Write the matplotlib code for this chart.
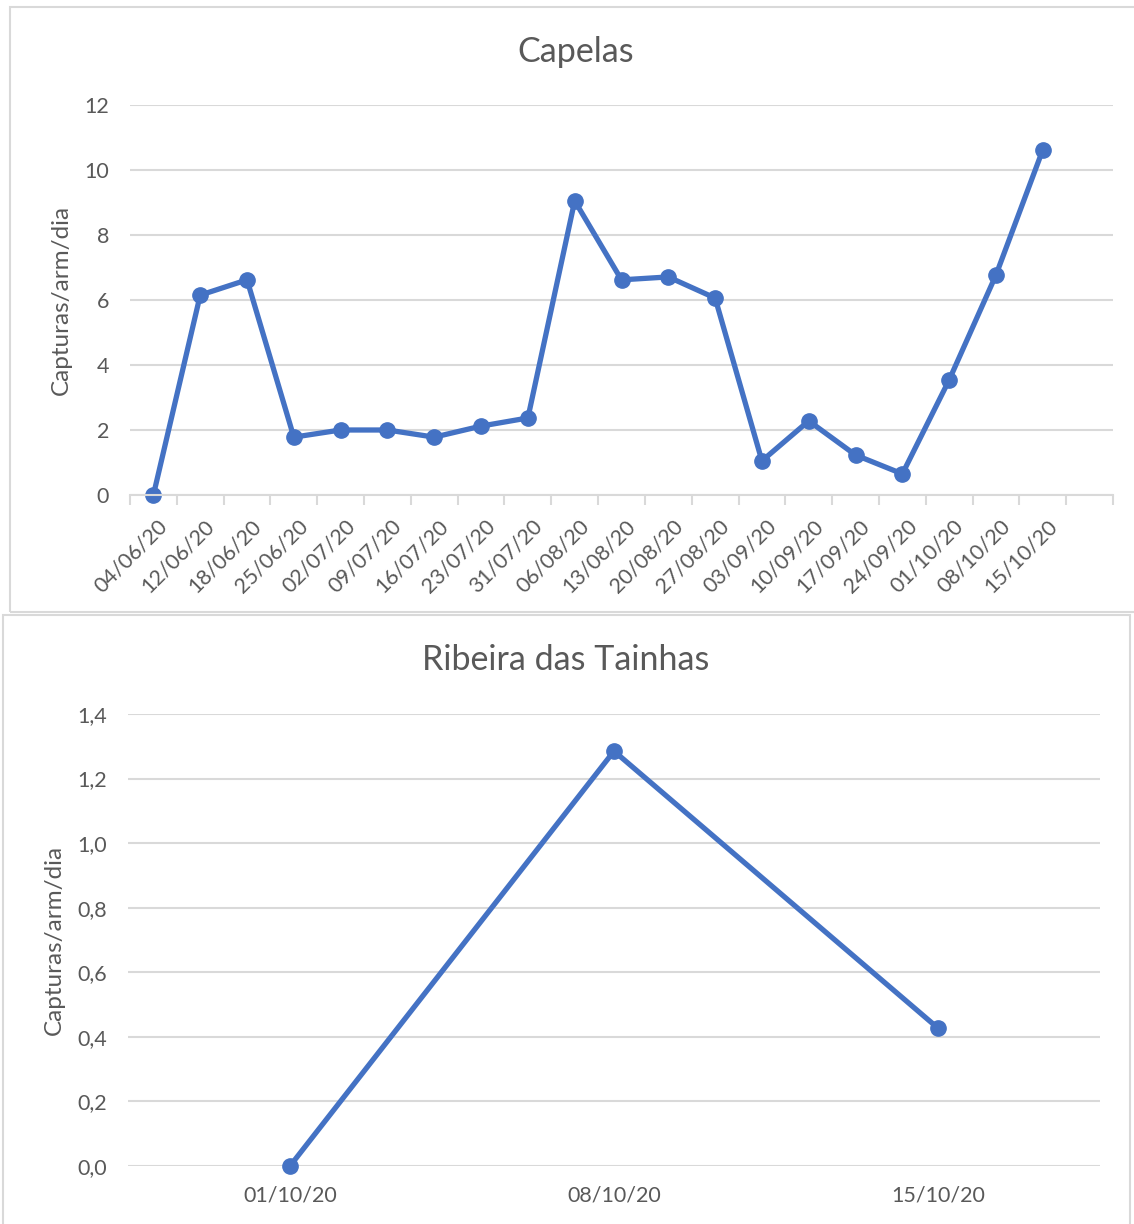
import matplotlib.pyplot as plt
from matplotlib.patches import Rectangle
from matplotlib.transforms import ScaledTranslation

# Dados - Capelas
datas_capelas = ["04/06/20", "12/06/20", "18/06/20", "25/06/20", "02/07/20", "09/07/20",
                 "16/07/20", "23/07/20", "31/07/20", "06/08/20", "13/08/20", "20/08/20",
                 "27/08/20", "03/09/20", "10/09/20", "17/09/20", "24/09/20", "01/10/20",
                 "08/10/20", "15/10/20"]
capturas_capelas = [0, 6.15, 6.62, 1.78, 2.0, 2.0, 1.78, 2.12, 2.37, 9.05, 6.62, 6.71,
                    6.06, 1.05, 2.28, 1.23, 0.65, 3.54, 6.77, 10.62]

# Dados - Ribeira das Tainhas
datas_ribeira = ["01/10/20", "08/10/20", "15/10/20"]
capturas_ribeira = [0, 1.285, 0.427]

azul = "#4472c4"
cinza_txt = "#595959"
cinza_grelha = "#d9d9d9"

plt.rcParams['font.family'] = ['Lato', 'DejaVu Sans']

W, H = 1134, 1224
fig = plt.figure(figsize=(W / 100, H / 100), dpi=100)

# caixas dos dois gráficos
fig.patches.append(Rectangle((10 / W, 1 - 612 / H), 1.2, 605 / H, transform=fig.transFigure,
                             fill=False, edgecolor=cinza_grelha, lw=1.5))
fig.patches.append(Rectangle((3 / W, 1 - 1230 / H), 1127 / W, 615 / H, transform=fig.transFigure,
                             fill=False, edgecolor=cinza_grelha, lw=1.5))


def estilo(ax):
    for s in ax.spines.values():
        s.set_visible(False)
    ax.grid(axis='y', color=cinza_grelha, lw=1.5)
    ax.set_axisbelow(True)
    ax.tick_params(axis='y', length=0, labelsize=15.5, labelcolor=cinza_txt)


# --- Capelas ---
ax1 = fig.add_axes([130 / W, 1 - 495 / H, 983 / W, 390 / H])
estilo(ax1)
x1 = list(range(len(datas_capelas)))
ax1.plot(x1, capturas_capelas, color=azul, lw=3.8, marker='o', ms=11, clip_on=False)
ax1.set_xlim(-0.5, len(datas_capelas) + 0.5)
ax1.set_ylim(0, 12)
ax1.set_yticks(range(0, 13, 2))
ax1.tick_params(axis='y', pad=15)
ax1.set_xticks(x1)
ax1.set_xticklabels(datas_capelas, rotation=45, ha='right', va='top', rotation_mode='anchor')
ax1.tick_params(axis='x', which='major', length=0, pad=15, labelsize=15.5, labelcolor=cinza_txt)
desloc = ScaledTranslation(4 / 100, 0, fig.dpi_scale_trans)
for lbl in ax1.get_xticklabels():
    lbl.set_transform(lbl.get_transform() + desloc)
ax1.set_xticks([i - 0.5 for i in range(len(datas_capelas) + 2)], minor=True)
ax1.tick_params(axis='x', which='minor', length=7, width=1.5, color=cinza_grelha)
ax1.spines['bottom'].set_visible(True)
ax1.spines['bottom'].set_color(cinza_grelha)
ax1.spines['bottom'].set_linewidth(1.5)
ax1.set_ylabel('Capturas/arm/dia', fontsize=17.5, color=cinza_txt, labelpad=9)
fig.text(576 / W, 1 - 52 / H, 'Capelas', ha='center', va='center', fontsize=24.5, color=cinza_txt)

# --- Ribeira das Tainhas ---
ax2 = fig.add_axes([128 / W, 1 - 1166 / H, 972 / W, 452 / H])
estilo(ax2)
x2 = list(range(len(datas_ribeira)))
ax2.plot(x2, capturas_ribeira, color=azul, lw=3.8, marker='o', ms=11, clip_on=False)
ax2.set_xlim(-0.5, len(datas_ribeira) - 0.5)
ax2.set_ylim(0, 1.4)
ticks2 = [0, 0.2, 0.4, 0.6, 0.8, 1.0, 1.2, 1.4]
ax2.set_yticks(ticks2)
ax2.set_yticklabels([f"{t:.1f}".replace('.', ',') for t in ticks2])
ax2.tick_params(axis='y', pad=15)
ax2.set_xticks(x2)
ax2.set_xticklabels(datas_ribeira)
ax2.tick_params(axis='x', length=0, pad=14, labelsize=15.5, labelcolor=cinza_txt)
ax2.set_ylabel('Capturas/arm/dia', fontsize=17.5, color=cinza_txt, labelpad=9)
fig.text(566 / W, 1 - 660 / H, 'Ribeira das Tainhas', ha='center', va='center', fontsize=24.5,
         color=cinza_txt)

fig.savefig('out.png', dpi=100, facecolor='white')
